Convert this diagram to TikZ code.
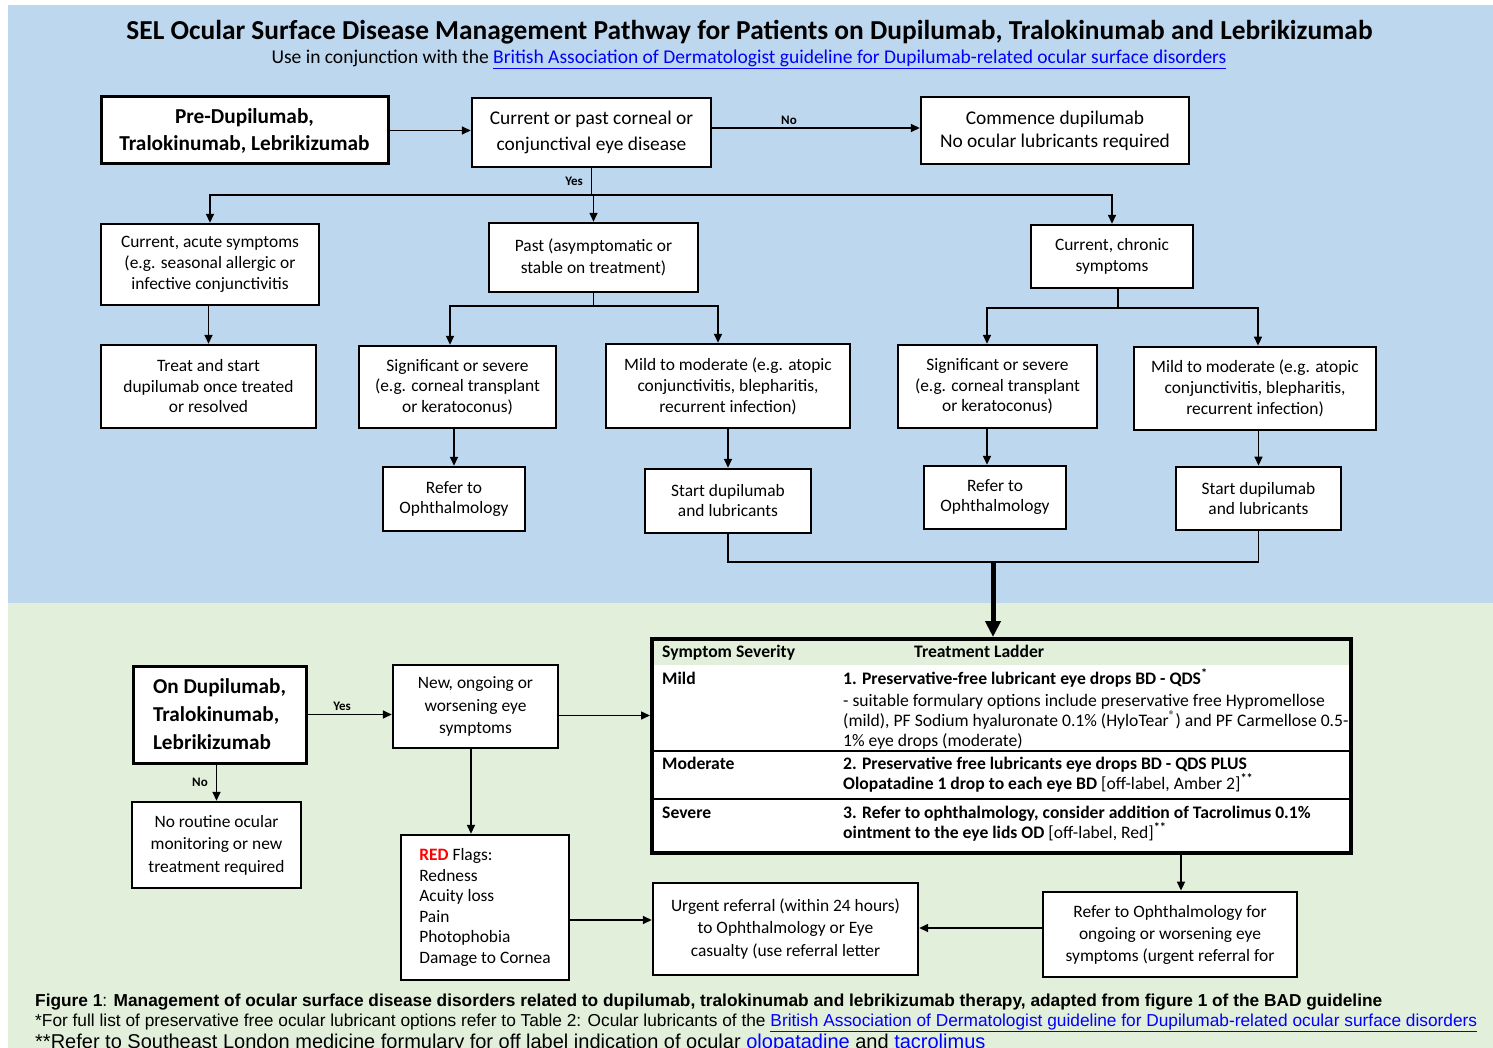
\documentclass[tikz,border=0pt]{standalone}
\usepackage{fontspec}
\setmainfont{Carlito}
\newfontfamily\capfont{Liberation Sans}
\usetikzlibrary{arrows.meta}
\definecolor{bgblue}{HTML}{BDD7EE}
\definecolor{bggreen}{HTML}{E2EFDA}
\definecolor{linkblue}{HTML}{0000FF}
\definecolor{flagred}{HTML}{FF0000}
\newcommand\myfs[2]{\fontsize{#1}{#2}\selectfont}
\newcommand\mylink[1]{\textcolor{linkblue}{\underline{#1}}}
\begin{document}
\begin{tikzpicture}[x=1pt,y=-1pt,
 box/.style={draw, line width=2.4pt, fill=white, align=center, inner sep=0pt},
 arr/.style={line width=1.5pt, -{Triangle[length=9pt,width=8pt]}},
 ln/.style={line width=1.5pt, line cap=rect},
 lab/.style={font=\bfseries\myfs{13}{15}, inner sep=1pt},
 txt/.style={inner sep=0pt, anchor=base west},
 tb/.style={txt, font=\myfs{17.6}{20}},
 tbb/.style={txt, font=\bfseries\myfs{17.6}{20}},
 captxt/.style={txt, font=\capfont\myfs{17.3}{20}},
]
\useasboundingbox (0,0) rectangle (1493,1048);
\fill[white] (0,0) rectangle (1493,1048);
\fill[bgblue] (8,5) rectangle (1493,603);
\fill[bggreen] (8,603) rectangle (1493,1048);

% title
\node[inner sep=0pt, font=\bfseries\myfs{27.4}{30}] (title) at (749.5,32) {SEL Ocular Surface Disease Management Pathway for Patients on Dupilumab, Tralokinumab and Lebrikizumab};
\node[inner sep=0pt, font=\myfs{19.5}{22}] (sub) at (749,59.5) {Use in conjunction with the \mylink{British Association of Dermatologist guideline for Dupilumab-related ocular surface disorders}};

% top section boxes
\node[box, line width=3pt, font=\bfseries\myfs{21.3}{27}, minimum width=287pt, minimum height=67pt] (pre) at (244.5,130.5) {Pre-Dupilumab,\\Tralokinumab, Lebrikizumab};
\node[box, font=\myfs{19.4}{26}, minimum width=239pt, minimum height=69pt] (cur) at (591.5,132.5) {Current or past corneal or\\conjunctival eye disease};
\node[box, font=\myfs{19.4}{23}, minimum width=268pt, minimum height=67pt] (com) at (1055,130.5) {Commence dupilumab\\No ocular lubricants required};
\node[box, font=\myfs{17.4}{21}, minimum width=218pt, minimum height=81pt] (acute) at (210,264.5) {Current, acute symptoms\\(e.g. seasonal allergic or\\infective conjunctivitis};
\node[box, font=\myfs{17.4}{22}, minimum width=209pt, minimum height=69pt] (past) at (593.5,257.5) {Past (asymptomatic or\\stable on treatment)};
\node[box, font=\myfs{17.4}{21}, minimum width=162pt, minimum height=63pt] (chr) at (1112,256.5) {Current, chronic\\symptoms};
\node[box, font=\myfs{17.4}{20.5}, minimum width=215pt, minimum height=83pt] (treat) at (208.5,386.5) {Treat and start\\dupilumab once treated\\or resolved};
\node[box, font=\myfs{17.4}{20.5}, minimum width=197pt, minimum height=82pt] (sig1) at (457.5,387) {Significant or severe\\(e.g. corneal transplant\\or keratoconus)};
\node[box, font=\myfs{17.4}{21}, minimum width=244pt, minimum height=84pt] (mild1) at (728,386) {Mild to moderate (e.g. atopic\\conjunctivitis, blepharitis,\\recurrent infection)};
\node[box, font=\myfs{17.4}{20}, minimum width=142pt, minimum height=64pt] (ref1) at (454,499) {Refer to\\Ophthalmology};
\node[box, font=\myfs{17.4}{20}, minimum width=166pt, minimum height=64pt] (st1) at (728,501) {Start dupilumab\\and lubricants};
\node[box, font=\myfs{17.4}{20.5}, minimum width=199pt, minimum height=83pt] (sig2) at (997.5,386.5) {Significant or severe\\(e.g. corneal transplant\\or keratoconus)};
\node[box, line width=2.8pt, font=\myfs{17.4}{21}, minimum width=242pt, minimum height=83pt] (mild2) at (1255,388.5) {Mild to moderate (e.g. atopic\\conjunctivitis, blepharitis,\\recurrent infection)};
\node[box, font=\myfs{17.4}{20}, minimum width=142pt, minimum height=63pt] (ref2) at (995,497.5) {Refer to\\Ophthalmology};
\node[box, line width=2.8pt, font=\myfs{17.4}{20}, minimum width=165pt, minimum height=63pt] (st2) at (1258.5,498.5) {Start dupilumab\\and lubricants};

% top connectors
\draw[arr] (pre.east) -- (pre.east -| cur.west);
\draw[arr] ([yshift=4.5pt]cur.east) -- ([yshift=4.5pt]cur.east -| com.west) node[lab, pos=0.37, above=2pt] {No};
\coordinate (yb) at (591.5,195);
\draw[ln] (cur.south) -- (cur.south |- yb) node[lab, midway, left=7pt] {Yes};
\draw[ln] (acute.north |- yb) -- (chr.north |- yb);
\draw[arr] (acute.north |- yb) -- (acute.north);
\draw[arr] (past.north |- yb) -- (past.north);
\draw[arr] (chr.north |- yb) -- (chr.north);
\draw[arr] (treat.north |- acute.south) -- (treat.north);
\coordinate (s1) at (450,306);
\coordinate (m1) at (718,306);
\draw[ln] (past.south) -- (past.south |- s1);
\draw[ln] (s1) -- (m1);
\draw[arr] (s1) -- (s1 |- sig1.north);
\draw[arr] (m1) -- (m1 |- mild1.north);
\draw[arr] (ref1.north |- sig1.south) -- (ref1.north);
\draw[arr] (st1.north |- mild1.south) -- (st1.north);
\coordinate (s2) at (987,308);
\coordinate (m2) at (1258,308);
\draw[ln] ([xshift=6pt]chr.south) -- ([xshift=6pt]chr.south |- s2);
\draw[ln] (s2) -- (m2);
\draw[arr] (s2) -- (s2 |- sig2.north);
\draw[arr] (m2) -- (m2 |- mild2.north);
\draw[arr] (s2 |- sig2.south) -- (s2 |- ref2.north);
\draw[arr] (st2.north |- mild2.south) -- (st2.north);

% table
\fill[white] (654,665) rectangle (1349,853);
\draw[line width=2pt] (654,751) -- (1349,751);
\draw[line width=2pt] (654,799) -- (1349,799);
\node[draw, line width=4pt, minimum width=699pt, minimum height=214pt, inner sep=0pt] (table) at (1001.5,746) {};
\node[tbb] (h1) at (662,657) {Symptom Severity};
\node[tbb] (h2) at (914,657) {Treatment Ladder};
\node[tbb] (r1) at (662,684) {Mild};
\node[tbb] (r1a) at (843,684) {1. Preservative-free lubricant eye drops BD - QDS\textsuperscript{*}};
\node[tb] (r1b) at (843,706) {- suitable formulary options include preservative free Hypromellose};
\node[tb] (r1c) at (843,726) {(mild), PF Sodium hyaluronate 0.1\% (HyloTear\textsuperscript{®}) and PF Carmellose 0.5-};
\node[tb] (r1d) at (843,746) {1\% eye drops (moderate)};
\node[tbb] (r2) at (662,769) {Moderate};
\node[tbb] (r2a) at (843,769) {2. Preservative free lubricants eye drops BD - QDS PLUS};
\node[tb] (r2b) at (843,789) {\textbf{Olopatadine 1 drop to each eye BD} [off-label, Amber 2]\textsuperscript{\textbf{**}}};
\node[tbb] (r3) at (662,818) {Severe};
\node[tbb] (r3a) at (843,818) {3. Refer to ophthalmology, consider addition of Tacrolimus 0.1\%};
\node[tb] (r3b) at (843,838) {\textbf{ointment to the eye lids OD} [off-label, Red]\textsuperscript{\textbf{**}}};

% join to table
\coordinate (jn) at (993,562);
\draw[ln] (st1.south) |- (jn) -| (st2.south);
\draw[line width=5pt, -{Triangle[length=16pt,width=15pt]}] (jn) -- (jn |- table.north);

% bottom boxes
\node[box, line width=3pt, align=left, font=\bfseries\myfs{21.2}{28}, minimum width=173pt, minimum height=97pt] (ondup) at (219.5,714.5) {On Dupilumab,\\Tralokinumab,\\Lebrikizumab};
\node[box, font=\myfs{17.4}{22.5}, minimum width=165pt, minimum height=83pt] (new) at (475.5,706.5) {New, ongoing or\\worsening eye\\symptoms};
\node[box, font=\myfs{17.4}{22.5}, minimum width=169pt, minimum height=86pt] (norout) at (216.5,845) {No routine ocular\\monitoring or new\\treatment required};
\node[box, align=left, font=\myfs{17.4}{20.6}, minimum width=168pt, minimum height=145pt] (red) at (485,907.5) {\textcolor{flagred}{\textbf{RED}} Flags:\\Redness\\Acuity loss\\Pain\\Photophobia\\Damage to Cornea};
\node[box, font=\myfs{17.4}{22.5}, minimum width=265pt, minimum height=92pt] (urgent) at (785.5,929) {Urgent referral (within 24 hours)\\to Ophthalmology or Eye\\casualty (use referral letter};
\node[box, line width=2.8pt, font=\myfs{17.4}{22}, minimum width=254pt, minimum height=85pt] (refer) at (1170,934.5) {Refer to Ophthalmology for\\ongoing or worsening eye\\symptoms (urgent referral for};

% bottom connectors
\draw[arr] (ondup.east) -- (ondup.east -| new.west) node[lab, pos=0.41, above=2pt] {Yes};
\draw[arr] ([yshift=-9pt]new.east) -- ([yshift=-9pt]new.east -| table.west);
\draw[arr] (norout.north |- ondup.south) -- (norout.north) node[lab, midway, left=7pt] {No};
\draw[arr] ([xshift=-4.5pt]new.south) -- ([xshift=-4.5pt]new.south |- red.north);
\draw[arr] ([yshift=-12.5pt]red.east) -- ([yshift=-12.5pt]red.east -| urgent.west);
\draw[arr] ([xshift=11pt]refer.north |- table.south) -- ([xshift=11pt]refer.north);
\draw[arr] ([yshift=6.5pt]refer.west) -- ([yshift=6.5pt]refer.west -| urgent.east);

% caption
\node[captxt] (cap1) at (35,1006) {\textbf{Figure 1}: \textbf{Management of ocular surface disease disorders related to dupilumab, tralokinumab and lebrikizumab therapy, adapted from figure 1 of the BAD guideline}};
\node[captxt] (cap2) at (35,1026) {*For full list of preservative free ocular lubricant options refer to Table 2: Ocular lubricants of the \mylink{British Association of Dermatologist guideline for Dupilumab-related ocular surface disorders}};
\node[captxt, font=\capfont\myfs{20}{22}] (cap3) at (35,1048) {**Refer to Southeast London medicine formulary for off label indication of ocular \mylink{olopatadine} and \mylink{tacrolimus}};
\end{tikzpicture}
\end{document}
